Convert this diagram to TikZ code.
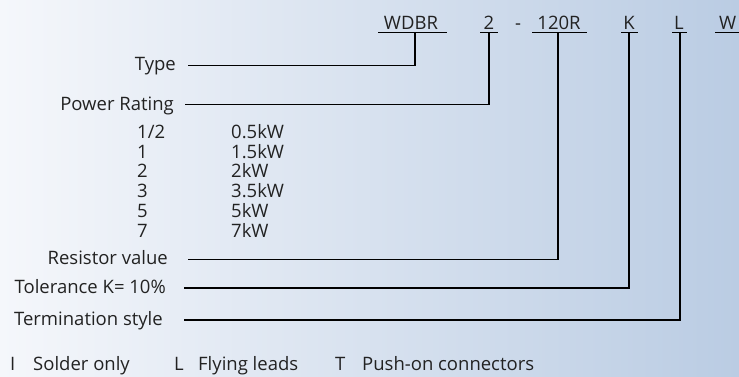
\documentclass[tikz,border=0pt]{standalone}
\usepackage{fontspec}
\setmainfont{Open Sans}
\definecolor{bgl}{HTML}{F5F7FB}
\definecolor{bgr}{HTML}{BACCE3}
\definecolor{txt}{HTML}{222222}
\begin{document}
\begin{tikzpicture}[x=1pt,y=-1pt,
  lbl/.style={inner sep=0pt,text=txt,font=\fontsize{18.5}{18.5}\selectfont},
  lab/.style={lbl,anchor=base east},
  col/.style={lbl,anchor=base west},
  code/.style={lbl,anchor=base},
  lead/.style={line width=1.1pt,black}]
\useasboundingbox (0,0) rectangle (739,376);
\shade[left color=bgl,right color=bgr] (0,0) rectangle (739,376);
% codes
\node[code] (wdbr) at (411,29) {WDBR};
\node[code] (pw) at (489,29) {2};
\node[code] (dash) at (518,29) {-};
\node[code] (res) at (559,29) {120R};
\node[code] (tol) at (629,29) {K};
\node[code] (term) at (679,29) {L};
\node[col] (wnode) at (719,29) {W};
% underlines
\coordinate (u1) at (415,32.5);
\coordinate (u2) at (489,32.5);
\coordinate (u3) at (558,32.5);
\coordinate (u4) at (629,32.5);
\coordinate (u5) at (680,32.5);
\draw[lead] (378,32.5) -- (447,32.5);
\draw[lead] (480,32.5) -- (498,32.5);
\draw[lead] (532,32.5) -- (587,32.5);
\draw[lead] (621,32.5) -- (638,32.5);
\draw[lead] (672,32.5) -- (687,32.5);
\draw[lead] (715,32.5) -- (739,32.5);
% labels
\node[lab] (type) at (176,70) {Type};
\node[lab] (power) at (174,110) {Power Rating};
\node[lab] (resv) at (168,264) {Resistor value};
\node[lab] (tolv) at (166,293) {Tolerance K= 10\%};
\node[lab] (termv) at (163,325) {Termination style};
% leaders
\draw[lead] (type.base east) ++(12,-4.5) coordinate (t0) -- (t0 -| u1) -- (u1);
\draw[lead] (power.base east) ++(11,-5.5) coordinate (p0) -- (p0 -| u2) -- (u2);
\draw[lead] (resv.base east) ++(20,-4.5) coordinate (r0) -- (r0 -| u3) -- (u3);
\draw[lead] (tolv.base east) ++(18,-5) coordinate (k0) -- (k0 -| u4) -- (u4);
\draw[lead] (termv.base east) ++(21,-5) coordinate (l0) -- (l0 -| u5) -- (u5);
% power table
\node[col] (a1) at (137,138.5) {1/2};
\node[col] (a2) at (137,158.2) {1};
\node[col] (a3) at (137,177.9) {2};
\node[col] (a4) at (137,197.6) {3};
\node[col] (a5) at (137,217.3) {5};
\node[col] (a6) at (137,237) {7};
\node[col] (b1) at (231,138.5) {0.5kW};
\node[col] (b2) at (231,158.2) {1.5kW};
\node[col] (b3) at (231,177.9) {2kW};
\node[col] (b4) at (231,197.6) {3.5kW};
\node[col] (b5) at (231,217.3) {5kW};
\node[col] (b6) at (231,237) {7kW};
% termination options
\node[col] (o1) at (10,370.5) {I};
\node[col] (o1t) at (33,370.5) {Solder only};
\node[col] (o2) at (174,370.5) {L};
\node[col] (o2t) at (198,370.5) {Flying leads};
\node[col] (o3) at (335,370.5) {T};
\node[col] (o3t) at (362,370.5) {Push-on connectors};
\end{tikzpicture}
\end{document}
